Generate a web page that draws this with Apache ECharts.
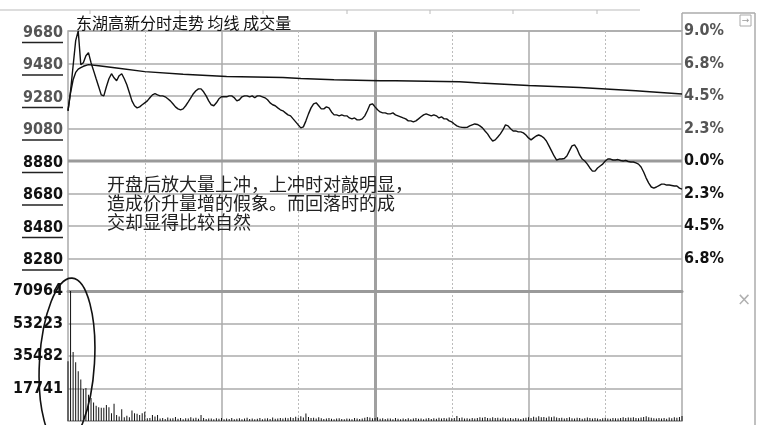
<!DOCTYPE html>
<html><head><meta charset="utf-8">
<script src="https://cdn.jsdelivr.net/npm/echarts@6/dist/echarts.min.js"></script>
<style>html,body{margin:0;padding:0;background:#fff}#c{width:780px;height:425px}</style>
</head><body><div id="c"></div>
<script>
const titleText = '东湖高新分时走势 均线 成交量';
const noteLines = ['开盘后放大量上冲，上冲时对敲明显，', '造成价升量增的假象。而回落时的成', '交却显得比较自然'];
const prevClose = 8880;
const priceMin = 8080, priceMax = 9680, priceStep = 200;
const volMax = 70964, volStep = 17741;

// minute categories 09:30-11:30, 13:01-15:00
const times = [];
(function(){
  function pad(n){return (n<10?'0':'')+n;}
  for (let t = 9*60+30; t <= 11*60+30; t++) times.push(pad(Math.floor(t/60))+':'+pad(t%60));
  for (let t = 13*60+1; t <= 15*60; t++) times.push(pad(Math.floor(t/60))+':'+pad(t%60));
})();

const price = [
9189,9312,9466,9621,9680,9473,9485,9528,9547,9485,
9436,9386,9337,9287,9281,9337,9386,9417,9392,9374,
9405,9417,9386,9349,9300,9250,9220,9207,9213,9226,
9238,9250,9269,9287,9294,9287,9281,9281,9275,9263,
9250,9232,9213,9201,9195,9201,9220,9244,9269,9294,
9312,9324,9324,9306,9281,9250,9226,9220,9238,9263,
9275,9275,9275,9281,9281,9269,9250,9257,9275,9281,
9281,9275,9281,9269,9281,9281,9275,9269,9257,9238,
9226,9220,9207,9195,9189,9176,9164,9158,9139,9121,
9102,9084,9090,9127,9170,9207,9232,9238,9220,9201,
9201,9213,9207,9182,9164,9164,9158,9164,9158,9158,
9145,9139,9145,9133,9133,9139,9158,9189,9226,9232,
9213,9195,9182,9176,9176,9170,9170,9176,9164,9158,
9152,9145,9139,9127,9127,9121,9127,9139,9152,9164,
9170,9164,9158,9164,9158,9145,9152,9139,9139,9127,
9121,9108,9096,9090,9087,9086,9087,9096,9102,9108,
9105,9096,9084,9065,9047,9022,9003,9010,9028,9047,
9071,9102,9096,9078,9065,9065,9059,9059,9053,9040,
9022,9010,9022,9034,9040,9034,9022,9003,8973,8942,
8911,8886,8892,8892,8895,8911,8942,8973,8979,8954,
8917,8892,8880,8861,8837,8818,8818,8837,8849,8861,
8880,8892,8892,8886,8886,8889,8883,8880,8883,8877,
8874,8874,8868,8861,8843,8812,8775,8744,8720,8713,
8720,8729,8738,8738,8732,8732,8729,8726,8726,8713,
8707
];

// average price read at selected minutes: [minute index, value]
const avgPoints = [
[0,9190],[1,9300],[2,9380],[3,9425],[4,9445],[5,9455],[6,9463],[8,9473],[12,9466],
[19,9452],[30,9430],[45,9414],[62,9400],[84,9394],[91,9388],[104,9380],[122,9374],
[128,9374],[153,9368],[161,9360],[180,9345],[200,9332],[222,9312],[226,9308],[240,9292]
];

const volume = [
32600,70964,37600,32100,27100,22600,17400,18000,14300,12500,
10100,8300,7500,7200,7200,8800,7500,4200,9400,3300,
2400,6400,2000,2800,2000,5700,4200,3900,3300,4200,
5100,1500,1700,3300,2500,3300,
1400,1650,1100,1900,1300,1500,2200,1200,1700,1000,
1500,1300,2000,1400,1800,1200,3300,1600,1100,1400,
1300,900,1500,1200,1700,1000,1400,1100,1600,900,
1200,1500,1000,1300,1800,1100,1400,900,1200,1600,
1000,1300,1500,1100,1900,1200,1400,1700,1300,1800,
1500,2100,1600,2300,1800,2600,1900,4100,2200,1600,
1800,1300,2000,1500,1100,1400,1700,1200,1000,1300,
1500,1100,900,1400,1200,1000,1600,1300,1100,1400,
1800,2200,1900,1500,1700,2000,1200,1500,1100,1400,
1300,1000,1600,1200,900,1400,1100,1500,1000,1300,
1700,1200,1400,1000,1300,1600,1100,1500,1200,1800,
1400,1600,1300,1900,1500,1700,2700,1600,1900,1300,
1500,1200,1700,1400,1600,2000,1800,2200,1700,1500,
2000,1600,1800,1400,1900,1500,1300,1700,1200,1600,
1400,1100,1500,1800,2100,1700,2300,1900,2600,2000,
2200,1800,2400,2000,2500,1900,1600,1800,1400,1700,
2000,1500,1300,1800,1600,1200,1500,1900,1700,1400,
1600,1300,1100,1500,1800,1400,1200,1700,1500,1300,
1700,2000,1600,1900,1800,2100,1700,1500,1900,2200,
2600,2000,1800,1500,1300,1700,1400,1600,1200,1900,
1500,2100,1800,2200,2700
];

const chart = echarts.init(document.getElementById('c'), null, {renderer:'canvas'});
const numFont = 'DejaVu Sans Condensed';
const gridColor = '#ababab';
const upColor = '#555555', dnColor = '#111111';

function xAxisSet(gi){
  const base = {type:'category', data:times, gridIndex:gi, boundaryGap:false,
    axisTick:{show:false}, axisLabel:{show:false}, axisLine:{show:false}};
  return [
    Object.assign({}, base, {axisLine:{show:gi===0, onZero:false, lineStyle:{color:'#9a9a9a', width:3}},
      splitLine:{show:true, interval:(i)=> i%60===0 && i!==0 && i!==120 && i!==240, lineStyle:{color:gridColor, width:1.5}}}),
    Object.assign({}, base, {splitLine:{show:true, interval:(i)=> i%60===30, lineStyle:{color:'#bcbcbc', width:1, type:[2,2]}}}),
    Object.assign({}, base, {splitLine:{show:true, interval:(i)=> i===120, lineStyle:{color:'#a0a0a0', width:3}}})
  ];
}

const topTicks = [90, 180, 263, 347, 430, 513, 597];

const option = {
  animation:false,
  backgroundColor:'#ffffff',
  title:{text:titleText, left:71, top:10, textStyle:{fontFamily:'Noto Sans CJK SC', fontSize:16, fontWeight:'normal', color:'#111'}},
  grid:[
    {left:68, right:98, top:31, height:260, show:true, borderColor:gridColor, borderWidth:1.5},
    {left:68, right:98, top:291, height:130, show:true, borderColor:gridColor, borderWidth:1.5}
  ],
  xAxis: xAxisSet(0).concat(xAxisSet(1)),
  yAxis:[
    {type:'value', gridIndex:0, min:priceMin, max:priceMax, interval:priceStep, position:'left',
     axisLine:{show:false}, axisTick:{show:false},
     splitLine:{show:true, lineStyle:{color:gridColor, width:1.5}},
     axisLabel:{margin:5, align:'right', padding:[8,0,0,0],
       formatter:(v)=> v===priceMin ? '' : (v>prevClose ? '{g|'+v+'}' : '{b|'+v+'}')+'\n{u|}',
       rich:{
         g:{fontFamily:numFont, fontWeight:'bold', fontSize:16, color:upColor, lineHeight:15, align:'right'},
         b:{fontFamily:numFont, fontWeight:'bold', fontSize:16, color:dnColor, lineHeight:15, align:'right'},
         u:{width:41, height:1.5, backgroundColor:'#222', lineHeight:5, align:'right'}
       }}},
    {type:'value', gridIndex:0, min:priceMin, max:priceMax, interval:priceStep, position:'right',
     axisLine:{show:false}, axisTick:{show:false}, splitLine:{show:false},
     axisLabel:{margin:2, align:'left', fontFamily:numFont, fontWeight:'bold', fontSize:16,
       color:(v)=> v>prevClose ? upColor : dnColor,
       formatter:(v)=> v===priceMin ? '' : Math.abs((v-prevClose)/prevClose*100).toFixed(1)+'%'}},
    {type:'value', gridIndex:1, min:0, max:volMax, interval:volStep, position:'left',
     axisLine:{show:false}, axisTick:{show:false},
     splitLine:{show:true, lineStyle:{color:gridColor, width:1.5}},
     axisLabel:{margin:5, align:'right', fontFamily:numFont, fontWeight:'bold', fontSize:16, color:dnColor,
       formatter:(v)=> v===0 ? '' : String(v)}}
  ],
  series:[
    {type:'line', name:'昨收', xAxisIndex:0, yAxisIndex:0, z:1, silent:true, symbol:'none',
     data:[[0,prevClose],[times.length-1,prevClose]], lineStyle:{color:'#9a9a9a', width:3}},
    {type:'line', name:'均线', xAxisIndex:0, yAxisIndex:0, z:3, symbol:'none', data:avgPoints,
     lineStyle:{color:'#111', width:1.4}},
    {type:'line', name:'价格', xAxisIndex:0, yAxisIndex:0, z:4, symbol:'none', data:price,
     lineStyle:{color:'#111', width:1.4}},
    {type:'bar', name:'成交量', xAxisIndex:3, yAxisIndex:2, z:3, barWidth:1, data:volume,
     itemStyle:{color:'#111'}}
  ],
  graphic:[
    {type:'text', left:107, top:175, z:10,
     style:{text:noteLines.join('\n'), font:'18px "Noto Sans CJK SC"', fill:'#222', lineHeight:19}},
    {type:'ellipse', x:67, y:362, rotation:-0.06, z:10,
     shape:{cx:0, cy:0, rx:27.5, ry:84}, style:{fill:null, stroke:'#111', lineWidth:1.6}},
    {type:'line', shape:{x1:682, y1:13, x2:682, y2:31}, style:{stroke:gridColor, lineWidth:1.5}},
    {type:'line', shape:{x1:682, y1:13, x2:755, y2:13}, style:{stroke:gridColor, lineWidth:1.5}},
    {type:'line', shape:{x1:755, y1:13, x2:755, y2:425}, style:{stroke:gridColor, lineWidth:1.5}},
    {type:'line', shape:{x1:0, y1:10, x2:640, y2:10}, style:{stroke:'#bbb', lineWidth:1}}
  ].concat(topTicks.map(function(x){
    return {type:'line', shape:{x1:x, y1:10, x2:x, y2:14}, style:{stroke:'#bbb', lineWidth:1}};
  })).concat([
    {type:'rect', shape:{x:740, y:15, width:11, height:11}, style:{fill:'#fff', stroke:'#aaa', lineWidth:1}},
    {type:'text', x:745.5, y:20.5, style:{text:'→', font:'9px "DejaVu Sans"', fill:'#999', align:'center', verticalAlign:'middle'}},
    {type:'text', x:744, y:301, style:{text:'×', font:'17px "DejaVu Sans"', fill:'#b0b0b0', align:'center', verticalAlign:'middle'}}
  ])
};
chart.setOption(option);
</script></body></html>
